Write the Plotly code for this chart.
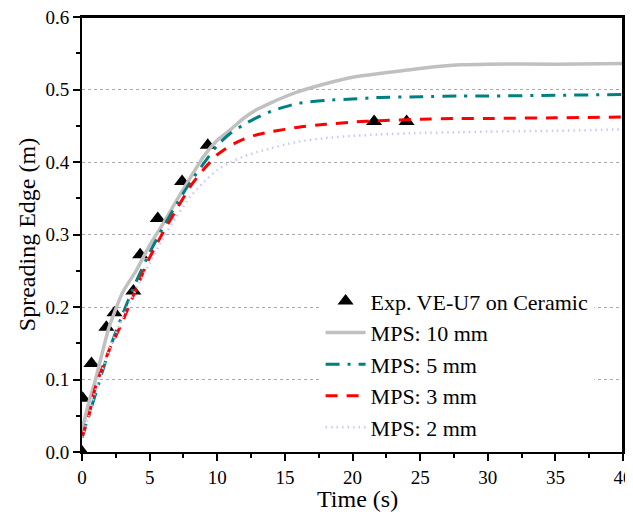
import plotly.graph_objects as go

# Experimental data
exp_t = [0.0, 0.05, 0.7, 1.8, 2.4, 3.8, 4.3, 5.6, 7.4, 9.3, 21.6, 24.0]
exp_y = [0.0, 0.074, 0.122, 0.172, 0.192, 0.222, 0.272, 0.322, 0.373, 0.423, 0.456, 0.456]

# Simulation curves
t_sim = [0, 0.5, 1, 2, 3, 4, 5, 6, 7, 8, 9, 10, 11, 12, 13, 14, 15, 16, 18, 20, 22, 25, 28, 30, 35, 40]
mps10 = [0.03, 0.068, 0.10, 0.172, 0.22, 0.25, 0.285, 0.315, 0.347, 0.378, 0.408, 0.43, 0.445, 0.461, 0.473, 0.482, 0.49, 0.497, 0.508, 0.517, 0.522, 0.529, 0.534, 0.535, 0.535, 0.536]
mps5 = [0.02, 0.05, 0.08, 0.14, 0.19, 0.235, 0.275, 0.31, 0.342, 0.372, 0.398, 0.423, 0.44, 0.452, 0.462, 0.47, 0.476, 0.481, 0.485, 0.487, 0.489, 0.490, 0.491, 0.491, 0.492, 0.493]
mps3 = [0.02, 0.05, 0.09, 0.14, 0.18, 0.225, 0.268, 0.303, 0.335, 0.366, 0.39, 0.41, 0.423, 0.432, 0.438, 0.442, 0.445, 0.448, 0.452, 0.455, 0.457, 0.459, 0.46, 0.46, 0.461, 0.462]
mps2 = [0.02, 0.05, 0.085, 0.14, 0.185, 0.225, 0.26, 0.295, 0.325, 0.352, 0.372, 0.389, 0.40, 0.408, 0.414, 0.419, 0.424, 0.428, 0.433, 0.436, 0.438, 0.44, 0.441, 0.442, 0.443, 0.445]

x_ticks = [0, 5, 10, 15, 20, 25, 30, 35, 40]
y_ticks = [0, 0.1, 0.2, 0.3, 0.4, 0.5, 0.6]

FONT = "Liberation Serif"

fig = go.Figure()
fig.add_trace(go.Scatter(x=exp_t, y=exp_y, mode="markers", name="Exp. VE-U7 on Ceramic",
                         marker=dict(symbol="triangle-up", size=14, color="black")))
fig.add_trace(go.Scatter(x=t_sim, y=mps10, mode="lines", name="MPS: 10 mm",
                         line=dict(color="#c0c0c0", width=3.5, shape="spline", smoothing=0.6)))
fig.add_trace(go.Scatter(x=t_sim, y=mps5, mode="lines", name="MPS: 5 mm",
                         line=dict(color="#008080", width=3, dash="14px,8px,3px,8px", shape="spline", smoothing=0.6)))
fig.add_trace(go.Scatter(x=t_sim, y=mps3, mode="lines", name="MPS: 3 mm",
                         line=dict(color="#ff0000", width=3, dash="12px,9px", shape="spline", smoothing=0.6)))
fig.add_trace(go.Scatter(x=t_sim, y=mps2, mode="lines", name="MPS: 2 mm",
                         line=dict(color="#c8c8ff", width=2.5, dash="1.5px,4px", shape="spline", smoothing=0.6)))

axis_common = dict(showline=True, linecolor="black", linewidth=2, mirror=True,
                   ticks="outside", ticklen=7, tickwidth=1.5, tickcolor="black",
                   tickfont=dict(family=FONT, size=19, color="black"),
                   ticklabeloverflow="allow",
                   zeroline=False, automargin=False)

fig.update_xaxes(range=[0, 40], tickvals=x_ticks,
                 showgrid=False,
                 minor=dict(ticks="outside", ticklen=4, tickwidth=1.5, tickcolor="black", dtick=2.5, showgrid=False),
                 **axis_common)
fig.update_yaxes(range=[0, 0.6], tickvals=y_ticks, tickformat=".1f",
                 showgrid=True, gridcolor="#aaaaaa", gridwidth=1, griddash="dot",
                 minor=dict(ticks="outside", ticklen=4, tickwidth=1.5, tickcolor="black", dtick=0.05, showgrid=False),
                 title=dict(text="Spreading Edge (m)", font=dict(family=FONT, size=24, color="black"), standoff=3),
                 **axis_common)

fig.add_annotation(text="Time (s)", xref="paper", yref="paper", x=0.51, y=-0.108,
                   xanchor="center", yanchor="middle", showarrow=False,
                   font=dict(family=FONT, size=24, color="black"))

# plot frame (top and right edges)
fig.add_shape(type="line", xref="paper", yref="paper", x0=0, x1=1, y0=1, y1=1,
              line=dict(color="black", width=2), layer="above")
fig.add_shape(type="line", xref="paper", yref="paper", x0=1, x1=1, y0=0, y1=1,
              line=dict(color="black", width=2), layer="above")

fig.update_layout(
    width=625, height=507,
    margin=dict(l=74, r=10, t=9, b=63),
    paper_bgcolor="white", plot_bgcolor="white",
    showlegend=True,
    legend=dict(x=0.441, y=0.395, xanchor="left", yanchor="top",
                bgcolor="white", borderwidth=0,
                font=dict(family=FONT, size=22, color="black"),
                tracegroupgap=0, itemwidth=40),
)

fig.write_html("out.html")
